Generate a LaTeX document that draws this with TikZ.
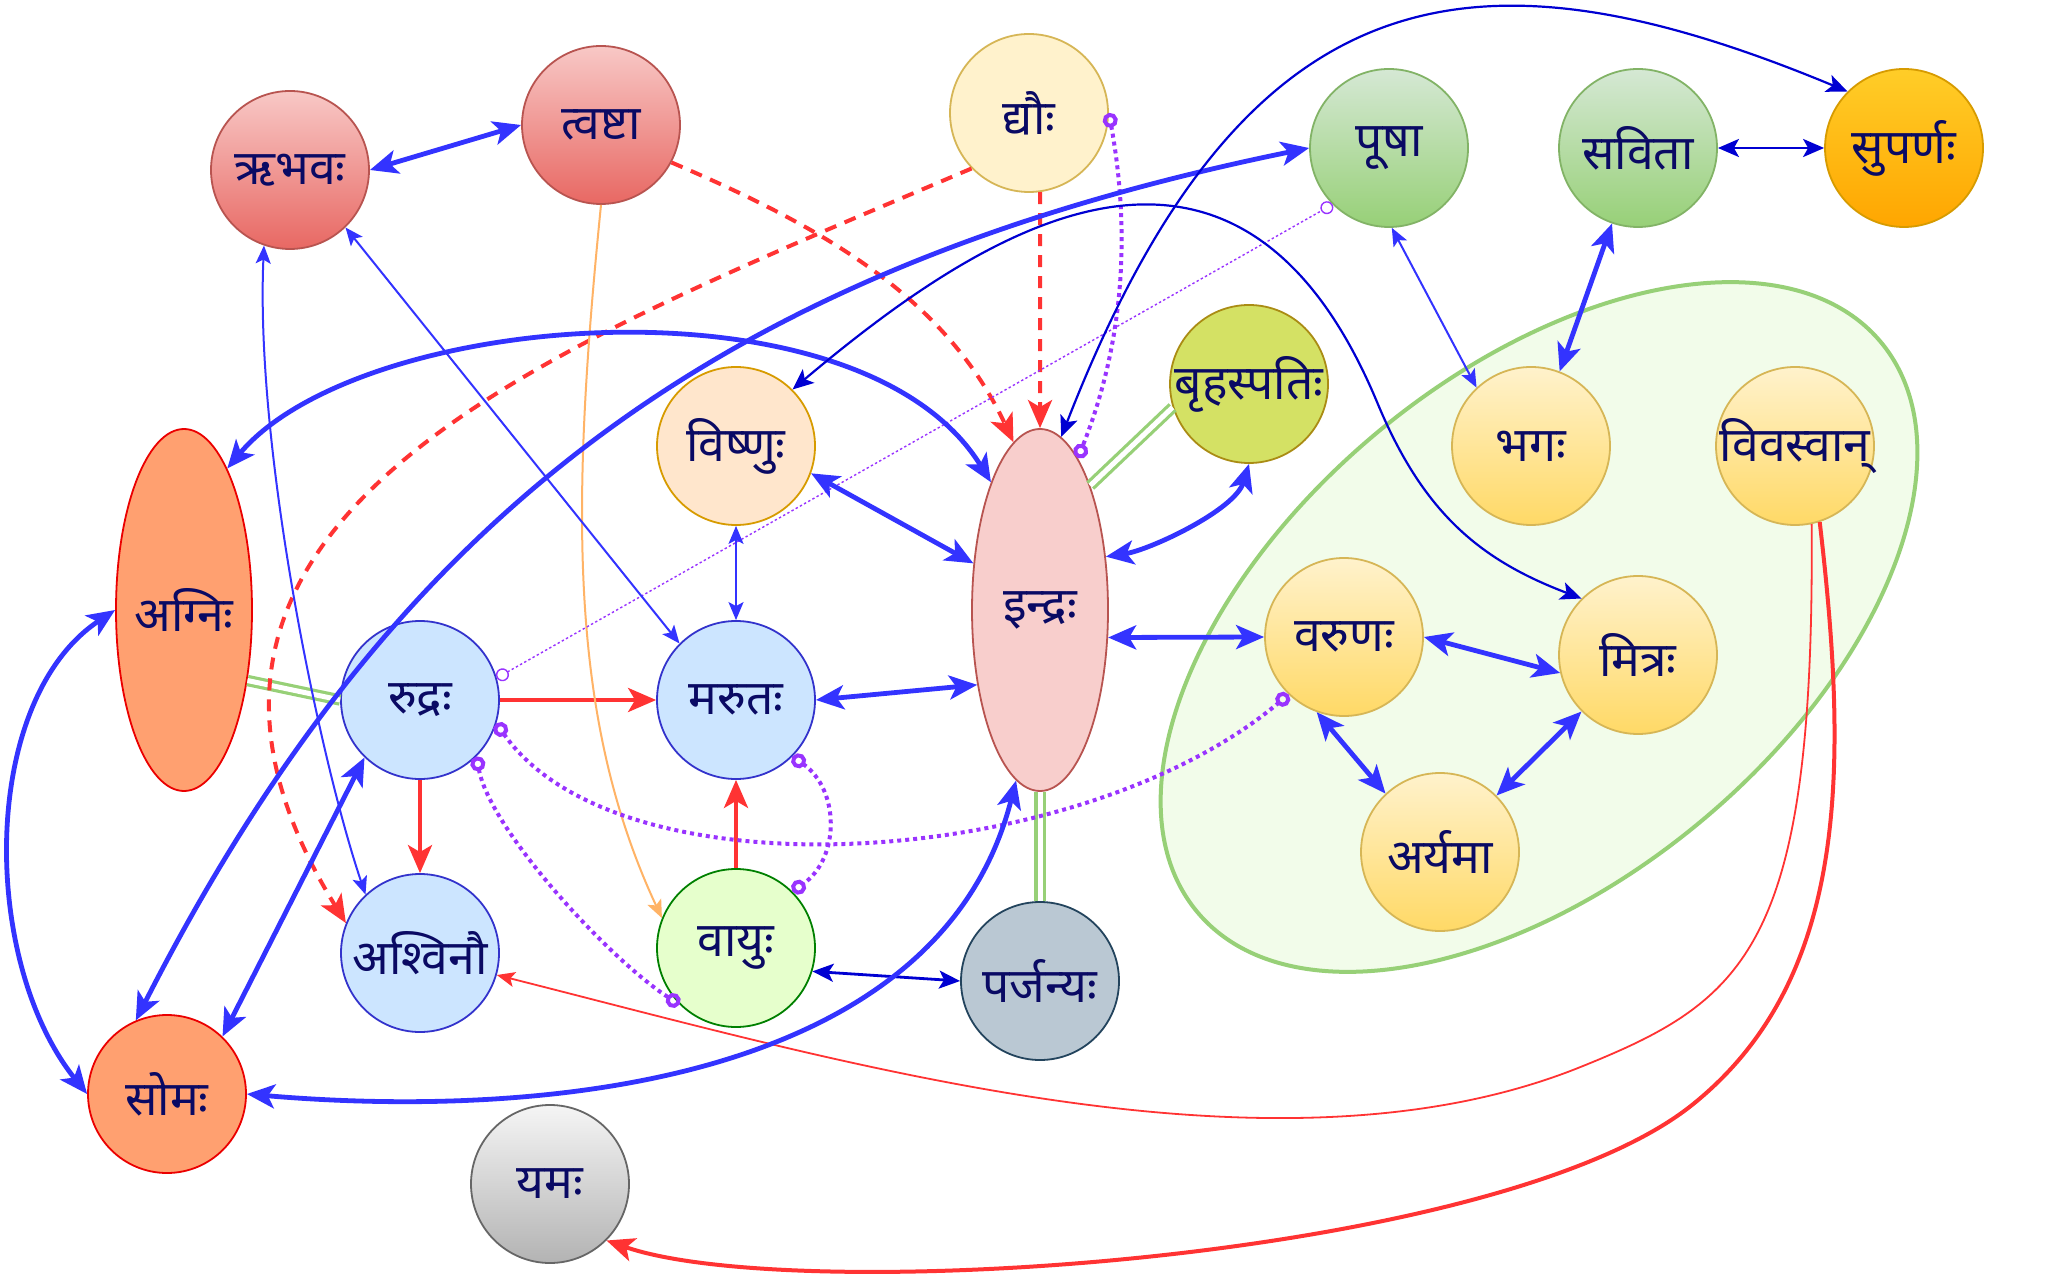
\documentclass[tikz,border=0pt]{standalone}
\usepackage{fontspec}
\newfontfamily\dev[Script=Devanagari]{Noto Sans}
\usetikzlibrary{arrows.meta,shapes.geometric}
\definecolor{txt}{RGB}{10,10,100}
\definecolor{eblue}{RGB}{51,51,255}
\definecolor{dblue}{RGB}{0,0,210}
\definecolor{ered}{RGB}{255,51,51}
\definecolor{epurple}{RGB}{153,51,255}
\definecolor{egreen}{RGB}{151,208,119}
\definecolor{eorange}{RGB}{255,179,102}
\definecolor{bigfill}{RGB}{242,252,234}
\newcommand{\lbl}[1]{\makebox[0pt][c]{#1}}
\begin{document}
\begin{tikzpicture}[x=0.5pt,y=-0.5pt,
  tipL/.tip={Stealth[length=14pt,width=12pt,inset=3.5pt]},
  tipM/.tip={Stealth[length=10.5pt,width=9pt,inset=2.5pt]},
  tipS/.tip={Stealth[length=9pt,width=7.5pt,inset=2pt]},
  tipC/.tip={Circle[open,length=7.5pt,width=7.5pt]},
  tipc/.tip={Circle[open,length=6.5pt,width=6.5pt]},
  deva/.style={circle,minimum size=79pt,inner sep=0pt,line width=0.9pt,
    font=\dev\fontsize{24pt}{28pt}\selectfont,text=txt},
  ellnode/.style={deva,ellipse,minimum width=68pt,minimum height=181pt},
  redn/.style={deva,draw={rgb,255:red,184;green,84;blue,80},top color={rgb,255:red,248;green,200;blue,198},bottom color={rgb,255:red,232;green,104;blue,99}},
  dyan/.style={deva,draw={rgb,255:red,214;green,182;blue,86},fill={rgb,255:red,255;green,242;blue,204}},
  greenn/.style={deva,draw={rgb,255:red,130;green,179;blue,102},top color={rgb,255:red,213;green,232;blue,212},bottom color={rgb,255:red,151;green,208;blue,119}},
  supn/.style={deva,draw={rgb,255:red,215;green,155;blue,0},top color={rgb,255:red,255;green,205;blue,40},bottom color={rgb,255:red,255;green,166;blue,0}},
  visn/.style={deva,draw={rgb,255:red,215;green,155;blue,0},fill={rgb,255:red,255;green,230;blue,204}},
  brhn/.style={deva,draw={rgb,255:red,170;green,140;blue,20},fill={rgb,255:red,212;green,225;blue,100}},
  agnn/.style={draw={rgb,255:red,235;green,0;blue,0},fill={rgb,255:red,255;green,160;blue,112}},
  indn/.style={draw={rgb,255:red,184;green,84;blue,80},fill={rgb,255:red,248;green,206;blue,204}},
  bluen/.style={deva,draw={rgb,255:red,51;green,51;blue,204},fill={rgb,255:red,204;green,229;blue,255}},
  adn/.style={deva,draw={rgb,255:red,214;green,182;blue,86},top color={rgb,255:red,255;green,242;blue,204},bottom color={rgb,255:red,255;green,217;blue,102}},
  vayn/.style={deva,draw={rgb,255:red,0;green,128;blue,0},fill={rgb,255:red,230;green,255;blue,204}},
  parn/.style={deva,draw={rgb,255:red,35;green,68;blue,93},fill={rgb,255:red,186;green,200;blue,211}},
  yamn/.style={deva,draw={rgb,255:red,102;green,102;blue,102},top color={rgb,255:red,245;green,245;blue,245},bottom color={rgb,255:red,179;green,179;blue,179}},
  bluebig/.style={draw=eblue,line width=2.4pt,tipL-tipL},
  bluethin/.style={draw=eblue,line width=1pt,tipS-tipS},
  darkblue/.style={draw=dblue,line width=1.4pt,tipM-tipM},
  darkbluearc/.style={draw=dblue,line width=1.1pt,tipM-tipM},
  redarrow/.style={draw=ered,line width=2pt,-tipL},
  reddash/.style={draw=ered,line width=2pt,dash pattern=on 6pt off 4.5pt,-tipL},
  redthin/.style={draw=ered,line width=0.9pt,-tipS},
  orangearrow/.style={draw=eorange,line width=1pt,-tipS},
  purdot/.style={draw=epurple,line width=2pt,dash pattern=on 2pt off 2pt,tipC-tipC},
  purdotthin/.style={draw=epurple,line width=0.7pt,dash pattern=on 1.2pt off 1.2pt,tipc-tipc},
  greendouble/.style={draw=egreen,line width=1.6pt,double=white,double distance=2.5pt}
]
\fill[white] (0,0) rectangle (2048,1277);
\useasboundingbox (0,0) rectangle (2048,1277);
% group ellipse
\node[ellipse,draw=egreen,line width=2pt,fill=bigfill,minimum width=445pt,minimum height=253pt,inner sep=0pt,rotate=39.8] (grp) at (1539,627) {};
% nodes
\node[redn] (rbh) at (290,170) {\lbl{ऋभवः}};
\node[redn] (tvs) at (601,125) {\lbl{त्वष्टा}};
\node[dyan] (dya) at (1029,113) {\lbl{द्यौः}};
\node[greenn] (pus) at (1389,148) {\lbl{पूषा}};
\node[greenn] (sav) at (1638,148) {\lbl{सविता}};
\node[supn] (sup) at (1904,148) {\lbl{सुपर्णः}};
\node[visn] (vis) at (736,446) {\lbl{विष्णुः}};
\node[brhn] (brh) at (1249,384) {\lbl{बृहस्पतिः}};
\node[ellnode,agnn] (agn) at (184,610) {\lbl{अग्निः}};
\node[ellnode,indn] (ind) at (1040,610) {\lbl{इन्द्रः}};
\node[bluen] (rud) at (420,700) {\lbl{रुद्रः}};
\node[bluen] (mar) at (736,700) {\lbl{मरुतः}};
\node[adn] (var) at (1344,637) {\lbl{वरुणः}};
\node[adn] (mit) at (1638,655) {\lbl{मित्रः}};
\node[adn] (bha) at (1531,446) {\lbl{भगः}};
\node[adn] (viv) at (1795,446) {\lbl{विवस्वान्}};
\node[adn] (ary) at (1440,852) {\lbl{अर्यमा}};
\node[bluen] (asv) at (420,953) {\lbl{अश्विनौ}};
\node[vayn] (vay) at (736,948) {\lbl{वायुः}};
\node[parn] (par) at (1040,981) {\lbl{पर्जन्यः}};
\node[deva,agnn] (som) at (167,1094) {\lbl{सोमः}};
\node[yamn] (yam) at (550,1184) {\lbl{यमः}};
% green double links
\draw[greendouble] (agn.-48) -- (rud.180);
\draw[greendouble] (ind.68) -- (brh.197);
\draw[greendouble] (ind.-90) -- (par.90);
% red
\draw[reddash] (tvs.-28) .. controls +(140,60) and +(-70,-150) .. (ind.99);
\draw[reddash] (dya.-82) -- (ind.90);
\draw[reddash] (dya.-136) .. controls (556,346) and (94,515) .. (asv.158);
\draw[redarrow] (rud.0) -- (mar.180);
\draw[redarrow] (rud.-90) -- (asv.90);
\draw[redarrow] (vay.90) -- (mar.-90);
\draw[redarrow] (viv.-72) .. controls (1849,772) and (1848,980) .. (1692,1105) .. controls (1497,1261) and (796,1306) .. (yam.-45);
\draw[redthin] (viv.-78) .. controls (1815,950) and (1745,1001) .. (1578,1068) .. controls (1271,1190) and (838,1061) .. (asv.-16);
\draw[orangearrow] (tvs.-90) .. controls (571,504) and (568,717) .. (vay.158);
% purple
\draw[purdot] (dya.0) .. controls (1130,230) and (1125,340) .. (ind.76);
\draw[purdotthin] (rud.16) -- (pus.225);
\draw[purdot] (rud.-17) .. controls (620,900) and (1080,870) .. (var.226);
\draw[purdot] (rud.-45) .. controls (490,830) and (610,960) .. (vay.225);
\draw[purdot] (mar.-45) .. controls (840,790) and (840,858) .. (vay.45);
% blue
\draw[bluebig] (rbh.0) -- (tvs.180);
\draw[bluebig] (vis.-20) -- (ind.145);
\draw[bluethin] (vis.-90) -- (mar.90);
\draw[bluebig] (mar.0) -- (ind.230);
\draw[bluebig] (ind.39) .. controls (1150,550) and (1235,510) .. (brh.-90);
\draw[bluebig] (ind.-22) -- (var.180);
\draw[bluebig] (var.0) -- (mit.193);
\draw[bluebig] (var.-110) -- (ary.133);
\draw[bluebig] (mit.225) -- (ary.45);
\draw[bluebig] (sav.-109) -- (bha.69);
\draw[darkblue] (sav.0) -- (sup.180);
\draw[bluethin] (pus.-88) -- (bha.133);
\draw[darkblue] (vay.-17) -- (par.180);
\draw[bluethin] (rbh.-46) -- (mar.135);
\draw[bluethin] (rbh.-109) .. controls (255,450) and (320,760) .. (asv.133);
\draw[bluebig] (agn.180) .. controls (-20,700) and (-20,960) .. (som.180);
\draw[bluebig] (agn.73) .. controls (360,310) and (860,270) .. (ind.111);
\draw[bluebig] (pus.180) .. controls (722,268) and (395,512) .. (som.113);
\draw[bluebig] (rud.226) -- (som.46);
\draw[bluebig] (som.0) .. controls (550,1120) and (940,1080) .. (ind.262);
\draw[darkbluearc] (ind.83) .. controls (1245,-35) and (1478,-62) .. (sup.135);
\draw[darkbluearc] (vis.45) .. controls (975.6,235.4) and (1234,60.5) .. (1377,402) .. controls (1423,513) and (1480,560) .. (mit.135);
\end{tikzpicture}
\end{document}
